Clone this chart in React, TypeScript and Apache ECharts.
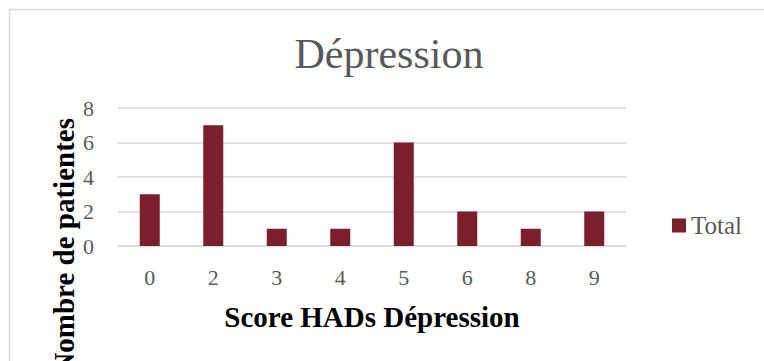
import React, { useEffect, useRef } from "react";
import * as echarts from "echarts";

const categories = ["0", "2", "3", "4", "5", "6", "8", "9"];
const totals = [3, 7, 1, 1, 6, 2, 1, 2];
const seriesName = "Total";
const chartTitle = "Dépression";
const xTitle = "Score HADs Dépression";
const yTitle = "Nombre de patientes";

const FONT = "'Liberation Serif', 'DejaVu Serif', serif";

export default function App() {
  const ref = useRef<HTMLDivElement>(null);
  useEffect(() => {
    if (!ref.current) return;
    const chart = echarts.init(ref.current, undefined, { renderer: "svg" });
    chart.setOption({
      animation: false,
      backgroundColor: "#ffffff",
      grid: { left: 118, right: 138, top: 108, bottom: 115 },
      legend: {
        data: [seriesName],
        left: 667,
        top: 208,
        itemWidth: 14,
        itemHeight: 14,
        icon: "rect",
        textStyle: { color: "#595959", fontSize: 25, fontFamily: FONT },
      },
      xAxis: {
        type: "category",
        data: categories,
        axisTick: { show: false },
        axisLine: { lineStyle: { color: "#D9D9D9", width: 1.5 } },
        axisLabel: { color: "#595959", fontSize: 22, fontFamily: FONT, margin: 20 },
        name: xTitle,
        nameLocation: "middle",
        nameGap: 56,
        nameTextStyle: { color: "#000000", fontSize: 29, fontWeight: "bold", fontFamily: FONT },
      },
      yAxis: {
        type: "value",
        min: 0,
        max: 8,
        interval: 2,
        axisLine: { show: false },
        axisTick: { show: false },
        splitLine: { lineStyle: { color: "#D9D9D9", width: 1.5 } },
        axisLabel: { color: "#595959", fontSize: 22, fontFamily: FONT, margin: 24 },
      },
      series: [
        {
          name: seriesName,
          type: "bar",
          data: totals,
          barWidth: 20,
          itemStyle: { color: "#7A1F2B" },
        },
      ],
      graphic: [
        {
          type: "rect",
          shape: { x: 9.5, y: 9.5, width: 800, height: 400 },
          style: { fill: "none", stroke: "#D9D9D9", lineWidth: 1.5 },
          silent: true,
        },
        {
          type: "text",
          x: 389,
          y: 54,
          style: {
            text: chartTitle,
            fill: "#595959",
            fontSize: 42,
            fontFamily: FONT,
            textAlign: "center",
            textVerticalAlign: "middle",
          },
        },
        {
          type: "text",
          x: 64,
          y: 118,
          rotation: Math.PI / 2,
          style: {
            text: yTitle,
            fill: "#000000",
            fontSize: 29,
            fontWeight: "bold",
            fontFamily: FONT,
            textAlign: "right",
            textVerticalAlign: "middle",
          },
        },
      ],
    });
    return () => chart.dispose();
  }, []);
  return (
    <div
      ref={ref}
      style={{ position: "fixed", left: 0, top: 0, width: 764, height: 361 }}
    />
  );
}
